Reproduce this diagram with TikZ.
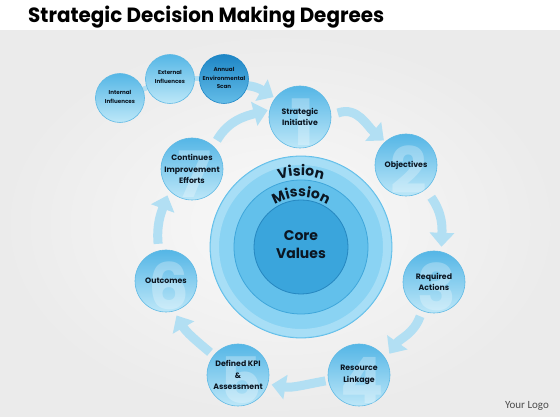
\documentclass[tikz,border=0pt]{standalone}
\usepackage{fontspec}
\usepackage{graphicx}
\usetikzlibrary{arrows.meta,decorations.text,calc}
\newfontfamily\pop{Poppins}
\newfontfamily\carl{Carlito}
\definecolor{ink}{HTML}{0B1622}
\definecolor{bgA}{HTML}{F9F9F9}
\definecolor{bgB}{HTML}{EBEBEB}
\definecolor{bubtop}{HTML}{55B6E6}
\definecolor{bubbot}{HTML}{BDE7F8}
\definecolor{bubedge}{HTML}{5FB9E4}
\definecolor{darktop}{HTML}{1E86C6}
\definecolor{darkbot}{HTML}{64BDE8}
\definecolor{arrowc}{HTML}{B2DFF3}
\definecolor{ringA}{HTML}{8AD3F3}
\definecolor{ringAedge}{HTML}{62BEE9}
\definecolor{ringB}{HTML}{62C0EB}
\definecolor{ringBedge}{HTML}{3FA6DA}
\definecolor{ringC}{HTML}{3AA5DC}
\definecolor{ringCedge}{HTML}{2687C0}
\pgfdeclarelayer{back}
\pgfdeclarelayer{bg}
\pgfsetlayers{back,bg,main}
\tikzset{
  bub/.style={circle, minimum size=62pt, inner sep=0pt, draw=bubedge, line width=0.6pt,
    top color=bubtop, bottom color=bubbot},
  sbub/.style={bub, minimum size=49pt},
  darker/.style={top color=darktop, bottom color=darkbot, draw=darktop},
  lbl/.style={align=center, inner sep=0pt, text=ink, font=\pop\bfseries\fontsize{7.8}{11.5}\selectfont},
  slbl/.style={lbl, font=\pop\bfseries\fontsize{5.6}{8.3}\selectfont},
  digit/.style={inner sep=0pt, text=white, text opacity=0.28, font=\pop\bfseries\fontsize{64}{64}\selectfont},
  arr/.style={line width=9pt, draw=arrowc, -{Triangle[width=24pt,length=14pt]}},
  bar/.style={line width=5pt, draw=arrowc},
}
\newcommand{\bubdigit}[3]{%
  \begin{scope}
    \clip (#1.center) circle[radius=30.5pt];
    \node[digit] (#2) at ([shift={(3,-5)}]#1.center) {#3};
  \end{scope}}
\begin{document}
\begin{tikzpicture}[x=1pt,y=1pt]
\useasboundingbox (0,0) rectangle (560,420);
\begin{pgfonlayer}{back}
  \fill[white] (0,0) rectangle (560,420);
  \shade[inner color=bgA, outer color=bgB] (0,3) rectangle (560,389);
\end{pgfonlayer}

% title
\node[anchor=base west, inner sep=0pt] (title) at (28,397)
  {\resizebox{356pt}{16.5pt}{\pop\bfseries Strategic Decision Making Degrees}};

% central rings
\node[circle, minimum size=182pt, inner sep=0pt, fill=ringA, draw=ringAedge, line width=0.8pt] (big) at (301,173) {};
\draw[white, opacity=0.25, line width=8pt] (big.center) circle[radius=86pt];
\node[circle, minimum size=134pt, inner sep=0pt, fill=ringB, draw=ringBedge, line width=0.8pt] (mid) at (big.center) {};
\node[circle, minimum size=94pt, inner sep=0pt, fill=ringC, draw=ringCedge, line width=0.8pt] (inner) at (big.center) {};
\path[decorate, decoration={text along path, text align=center,
   text={|\color{ink}\pop\bfseries\fontsize{14}{14}\selectfont|Vision}}]
   ([shift={(130:71)}]big.center) arc[start angle=130, end angle=50, radius=71pt];
\path[decorate, decoration={text along path, text align=center,
   text={|\color{ink}\pop\bfseries\fontsize{14}{14}\selectfont|Mission}}]
   ([shift={(145:50)}]big.center) arc[start angle=145, end angle=35, radius=50pt];
\node[align=center, text=ink, font=\pop\bfseries\fontsize{14}{18}\selectfont] (core) at (301,175) {Core\\Values};

% cycle bubbles
\node[bub] (s1) at (300,303) {};
\node[bub] (s2) at (406,255) {};
\node[bub] (s3) at (434,138) {};
\node[bub] (s4) at (359,45) {};
\node[bub] (s5) at (238,45) {};
\node[bub] (s6) at (166,139) {};
\node[bub] (s7) at (192,251) {};
\bubdigit{s1}{n1}{1}
\bubdigit{s2}{n2}{2}
\bubdigit{s3}{n3}{3}
\bubdigit{s4}{n4}{4}
\bubdigit{s5}{n5}{5}
\bubdigit{s6}{n6}{6}
\bubdigit{s7}{n7}{7}
\node[lbl] (l1) at (s1) {Strategic\\Initiative};
\node[lbl] (l2) at (s2) {Objectives};
\node[lbl] (l3) at (s3) {Required\\Actions};
\node[lbl] (l4) at (s4) {Resource\\Linkage};
\node[lbl] (l5) at (s5) {Defined KPI\\\&\\Assessment};
\node[lbl] (l6) at (s6) {Outcomes};
\node[lbl] (l7) at (s7) {Continues\\Improvement\\Efforts};

% small bubbles
\node[sbub] (internal) at (120,322) {};
\node[sbub] (external) at (170,341) {};
\node[sbub, darker] (annual) at (224,341) {};
\node[slbl] (li) at ([yshift=1]internal.center) {Internal\\Influences};
\node[slbl] (le) at ([yshift=2]external.center) {External\\Influences};
\node[slbl] (la) at ([yshift=1]annual.center) {Annual\\Environmental\\Scan};

% connectors
\begin{pgfonlayer}{bg}
  \draw[bar] (internal) -- (external);
  \draw[bar] (external) -- (annual);
  \draw[arr] ([shift={(-16:24)}]annual.center) to[out=-5, in=150] ([shift={(143:33)}]s1.center);
  \draw[arr] ([shift={(6:38)}]s1.center) to[out=20, in=140] ([shift={(132:33)}]s2.center);
  \draw[arr] ([shift={(-52:41)}]s2.center) to[out=-55, in=88] ([shift={(78:36)}]s3.center);
  \draw[arr] ([shift={(-112:37)}]s3.center) to[out=-110, in=55] ([shift={(35:37)}]s4.center);
  \draw[arr] ([shift={(-170:34)}]s4.center) to[out=190, in=-10] ([shift={(-16:35)}]s5.center);
  \draw[arr] ([shift={(141:36)}]s5.center) to[out=140, in=-60] ([shift={(-73:36)}]s6.center);
  \draw[arr] ([shift={(102:38)}]s6.center) to[out=95, in=-110] ([shift={(-133:36)}]s7.center);
  \draw[arr] ([shift={(49:38)}]s7.center) to[out=60, in=195] ([shift={(168:33)}]s1.center);
\end{pgfonlayer}

\node[text=black!70, font=\carl\fontsize{11}{11}\selectfont] (logo) at (527,14) {Your Logo};
\end{tikzpicture}
\end{document}
